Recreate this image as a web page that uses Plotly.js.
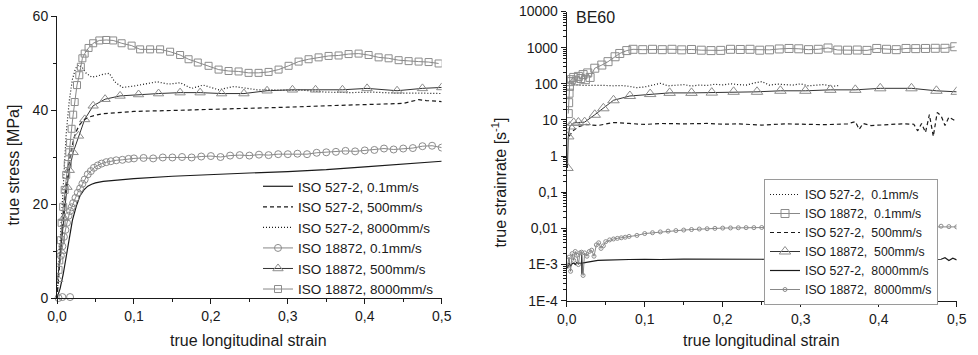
<!DOCTYPE html>
<html>
<head>
<meta charset="utf-8">
<script src="https://cdn.plot.ly/plotly-3.0.1.min.js"></script>
<style>html,body{margin:0;padding:0;background:#fff;}#chart{width:978px;height:355px;}</style>
</head>
<body>
<div id="chart"></div>
<script>
// ---------- LEFT PANEL: true stress vs true longitudinal strain ----------
const labelsLeft = ["ISO 527-2, 0.1mm/s","ISO 527-2, 500mm/s","ISO 527-2, 8000mm/s","ISO 18872, 0.1mm/s","ISO 18872, 500mm/s","ISO 18872, 8000mm/s"];

const s527_01_x = [0,0.004,0.008,0.012,0.016,0.02,0.025,0.03,0.035,0.04,0.045,0.05,0.06,0.08,0.1,0.15,0.2,0.25,0.3,0.35,0.4,0.45,0.5];
const s527_01_y = [0,2,5,9,13,16.5,19.5,21.8,23,23.8,24.2,24.5,24.8,25.1,25.4,25.9,26.3,26.6,26.9,27.3,27.9,28.5,29.1];

const s527_500_x = [0,0.003,0.006,0.01,0.014,0.018,0.022,0.026,0.03,0.035,0.04,0.05,0.06,0.08,0.1,0.15,0.2,0.25,0.3,0.35,0.4,0.45,0.47,0.48,0.5];
const s527_500_y = [0,6,13,21,27,31,34,35.8,37,37.9,38.4,38.9,39.2,39.5,39.7,39.9,40.1,40.4,40.6,40.9,41.1,41.4,42.2,42,41.8];

const s527_8000_x = [0,0.004,0.008,0.012,0.016,0.02,0.024,0.028,0.033,0.038,0.045,0.052,0.06,0.068,0.075,0.085,0.1,0.115,0.13,0.145,0.16,0.175,0.19,0.21,0.23,0.26,0.29,0.32,0.35,0.38,0.41,0.44,0.47,0.5];
const s527_8000_y = [0,12,25,35,42,46.5,48.8,49.6,49,47.8,47,47.2,47.6,47.8,46,44.8,45.1,45.6,46,45.5,45.8,44.6,45.3,44.3,45,44.3,44.2,44.2,43.8,43.7,43.8,43.6,43.6,43.5];

const s18872_01_x = [0.005,0.007,0.009,0.011,0.013,0.015,0.017,0.019,0.021,0.024,0.027,0.03,0.033,0.036,0.04,0.044,0.048,0.053,0.058,0.064,0.07,0.077,0.085,0.093,0.1,
  0.1125,0.125,0.1375,0.15,0.1625,0.175,0.1875,0.2,0.2125,0.225,0.2375,0.25,0.2625,0.275,0.2875,0.3,0.3125,0.325,0.3375,0.35,0.3625,0.375,0.3875,0.4,0.4125,0.425,0.4375,0.45,0.4625,0.475,0.4875,0.5];
const s18872_01_y = [9,11,13,14.5,16,17.5,18.5,19.3,20.2,21.3,22.4,23.3,24.3,25.2,26.3,27,27.7,28.2,28.6,28.9,29.1,29.3,29.4,29.6,29.7,
  29.8,29.7,29.9,29.9,30.0,29.9,30.1,30.2,30.0,30.3,30.4,30.3,30.5,30.4,30.6,30.6,30.7,30.6,30.9,31.0,31.1,31.3,31.2,31.4,31.5,31.8,31.6,31.8,31.9,32.3,32.4,32.0];
const s18872_01_start_x = [0.002,0.007,0.017];
const s18872_01_start_y = [0,0.2,0.2];

const s18872_500_x = [0.001,0.005,0.009,0.013,0.016,0.021,0.028,0.036,0.047,0.0625,0.082,0.106,0.132,0.16,0.186,0.214,0.243,0.273,0.306,0.336,0.371,0.403,0.442,0.475,0.5];
const s18872_500_y = [4,10,17,23.6,27.2,31,34.5,38,40.9,42.3,43,43.3,43.5,43.7,43.7,43.5,43.5,44.1,44.3,44.3,44.3,44.6,44.1,44.6,44.8];

const s18872_8000_x = [0.002,0.003,0.005,0.006,0.008,0.01,0.012,0.014,0.016,0.017,0.019,0.021,0.023,0.026,0.029,0.031,0.033,0.036,0.041,0.047,0.055,0.064,
  0.073,0.084,0.097,0.108,0.121,0.134,0.147,0.16,0.171,0.183,0.197,0.21,0.223,0.236,0.249,0.262,0.275,0.288,0.301,0.314,0.327,0.34,0.353,0.366,0.379,0.392,0.405,0.418,0.431,0.444,0.457,0.47,0.483,0.496];
const s18872_8000_y = [6,8,12.3,16,19.4,23,26.2,28.5,31,33,36,39,41.7,45.3,47.4,49.2,51,52,53.2,54.2,54.8,54.9,
  54.8,54.2,53.7,52.9,52.9,52.9,52.4,51.7,50.8,50.1,49.4,48.6,48.3,48.2,47.9,47.9,48.1,48.6,49.4,50.3,50.8,51.2,51.5,51.6,51.9,52,51.7,51.2,51,50.6,50.4,50.3,50.2,49.9];

// ---------- RIGHT PANEL: true strainrate vs true longitudinal strain ----------
const labelsRight = ["ISO 527-2,  0.1mm/s","ISO 18872,  0.1mm/s","ISO 527-2,  500mm/s","ISO 18872,  500mm/s","ISO 527-2,  8000mm/s","ISO 18872,  8000mm/s"];

const r_dot_x = [0.003,0.006,0.01,0.015,0.02,0.03,0.04,0.05,0.06,0.07,0.08,0.09,0.1,0.11,0.12,0.13,0.14,0.15,0.16,0.17,0.18,0.19,0.2,0.21,0.22,0.23,0.24,0.25,0.26,0.27,0.28,0.29,0.3,0.31,0.32,0.33,0.34,0.35];
const r_dot_y = [120,100,95,92,90,90,92,90,88,90,85,78,82,93,103,88,92,95,87,92,90,97,93,100,95,92,105,115,92,98,95,92,100,88,92,95,85,90];

const r_sq_x = [0.002,0.0025,0.003,0.0035,0.004,0.006,0.009,0.012,0.015,0.018,0.021,0.024,0.027,0.03,0.036,0.045,0.053,0.062,0.068,0.077,0.085,
  0.0975,0.11,0.1225,0.135,0.1475,0.16,0.1725,0.185,0.1975,0.21,0.2225,0.235,0.2475,0.26,0.2725,0.285,0.2975,0.31,0.3225,0.335,0.3475,0.36,0.3725,0.385,0.3975,0.41,0.4225,0.435,0.4475,0.46,0.4725,0.485,0.4975];
const r_sq_y = [15,30,55,85,115,130,150,120,160,140,180,130,200,150,270,330,410,560,690,830,900,
  880,900,880,900,870,890,850,830,840,900,890,900,850,870,920,950,930,880,900,980,860,850,860,840,950,900,880,950,940,950,960,960,1060];

const r_dash_x = [0.003,0.008,0.015,0.025,0.04,0.06,0.08,0.1,0.12,0.15,0.18,0.2,0.22,0.25,0.28,0.3,0.33,0.36,0.37,0.375,0.38,0.39,0.41,0.43,0.445,0.45,0.455,0.46,0.465,0.47,0.475,0.48,0.485,0.49,0.5];
const r_dash_y = [3.5,5,6.5,7.5,7,8.5,8,7.5,8,7.8,8,7.6,7.8,7.2,7.8,7.6,7.4,7.8,9,5.5,8,7,7.5,7.8,7.6,5,8,4.5,14,3.5,16,13,7,12,9];

const r_tri_x = [0.001,0.002,0.004,0.009,0.015,0.023,0.036,0.047,0.06,0.081,0.107,0.132,0.16,0.186,0.214,0.244,0.274,0.306,0.338,0.37,0.402,0.442,0.474,0.5];
const r_tri_y = [0.47,3.5,6.6,8.3,8.5,8.7,13.9,21,35,46,52,56,56,57,60,60,64,64,68,68,75,75,64,60];

const r_sol_x = [0.001,0.003,0.005,0.007,0.009,0.011,0.013,0.015,0.017,0.019,0.0192,0.0195,0.02,0.025,0.03,0.035,0.04,0.05,0.06,0.08,0.1,0.12,0.15,0.18,0.2,0.25,0.3,0.35,0.4,0.45,0.48,0.485,0.49,0.495,0.5];
const r_sol_y = [8e-4,1.1e-3,9e-4,1.05e-3,1.1e-3,1e-3,1.15e-3,1.05e-3,1.1e-3,1.05e-3,1.9e-3,5.5e-4,1.1e-3,1.15e-3,1.2e-3,1.25e-3,1.3e-3,1.32e-3,1.35e-3,1.38e-3,1.4e-3,1.38e-3,1.42e-3,1.4e-3,1.38e-3,1.4e-3,1.38e-3,1.4e-3,1.4e-3,1.42e-3,1.4e-3,1.55e-3,1.3e-3,1.5e-3,1.35e-3];

const r_circ_x = [0.001,0.003,0.005,0.007,0.009,0.011,0.013,0.015,0.017,0.019,0.021,0.023,0.026,0.029,0.032,0.035,0.038,0.041,0.044,0.047,0.05,0.055,0.06,0.065,0.07,0.075,0.08,
  0.09,0.1,0.11,0.12,0.13,0.14,0.15,0.16,0.17,0.18,0.19,0.2,
  0.21,0.22,0.23,0.24,0.25,0.26,0.27,0.28,0.29,0.3,0.31,0.32,0.33,0.34,0.35,0.36,0.37,0.38,0.39,0.4,0.41,0.42,0.43,0.44,0.45,0.46,0.47,0.48,0.49,0.5];
const r_circ_y = [9e-4,1.6e-3,6.5e-4,2e-3,1.3e-3,2.3e-3,1.8e-3,1e-3,2.1e-3,2.2e-3,5e-4,2.1e-3,1.7e-3,2.3e-3,2.5e-3,1.7e-3,3.5e-3,4e-3,2.8e-3,3.3e-3,4.3e-3,4.8e-3,5.1e-3,5.3e-3,5.5e-3,5.7e-3,6e-3,
  6.4e-3,7.2e-3,7.6e-3,8e-3,8.4e-3,8.7e-3,9e-3,9.3e-3,9.6e-3,9.8e-3,1e-2,1.02e-2,
  1.03e-2,1.04e-2,1.05e-2,1.05e-2,1.06e-2,1.07e-2,1.07e-2,1.08e-2,1.08e-2,1.09e-2,1.09e-2,1.1e-2,1.1e-2,1.1e-2,1.11e-2,1.11e-2,1.1e-2,1.12e-2,1.12e-2,1.11e-2,1.12e-2,1.13e-2,1.12e-2,1.13e-2,1.12e-2,1.14e-2,1.13e-2,1.15e-2,1.12e-2,1.1e-2];

const logTickVals = [1e-4,1e-3,1e-2,0.1,1,10,100,1000,10000];
const logTickText = ["1E-4","1E-3","0,01","0,1","1","10","100","1000","10000"];

// ---------- styling ----------
const W = 978, H = 355;
const FONT = "Liberation Sans, Arial, sans-serif";
const INK = "#1a1a1a";
const GRAY = "#8c8c8c";
const LGRAY = "#6a6a6a";

const traces = [
  {x:s527_01_x, y:s527_01_y, name:labelsLeft[0], mode:"lines", line:{color:INK,width:1.2}, xaxis:"x", yaxis:"y", legend:"legend"},
  {x:s527_500_x, y:s527_500_y, name:labelsLeft[1], mode:"lines", line:{color:INK,width:1.2,dash:"4px,3px"}, xaxis:"x", yaxis:"y", legend:"legend"},
  {x:s527_8000_x, y:s527_8000_y, name:labelsLeft[2], mode:"lines", line:{color:INK,width:1.2,dash:"1px,2px"}, xaxis:"x", yaxis:"y", legend:"legend"},
  {x:s18872_01_x, y:s18872_01_y, name:labelsLeft[3], mode:"lines+markers", line:{color:LGRAY,width:0.8}, marker:{symbol:"circle-open",size:7,color:GRAY,line:{width:1,color:GRAY}}, xaxis:"x", yaxis:"y", legend:"legend"},
  {x:s18872_500_x, y:s18872_500_y, name:labelsLeft[4], mode:"lines+markers", line:{color:"#333",width:1}, marker:{symbol:"triangle-up-open",size:9,color:GRAY,line:{width:1,color:GRAY}}, xaxis:"x", yaxis:"y", legend:"legend"},
  {x:s18872_8000_x, y:s18872_8000_y, name:labelsLeft[5], mode:"lines+markers", line:{color:LGRAY,width:0.8}, marker:{symbol:"square-open",size:7,color:GRAY,line:{width:1,color:GRAY}}, xaxis:"x", yaxis:"y", legend:"legend"},
  {x:s18872_01_start_x, y:s18872_01_start_y, mode:"markers", showlegend:false, marker:{symbol:"circle-open",size:7,color:GRAY,line:{width:1,color:GRAY}}, xaxis:"x", yaxis:"y", cliponaxis:false},

  {x:r_dot_x, y:r_dot_y, name:labelsRight[0], mode:"lines", line:{color:INK,width:1.2,dash:"1px,2px"}, xaxis:"x2", yaxis:"y2", legend:"legend2"},
  {x:r_sq_x, y:r_sq_y, name:labelsRight[1], mode:"lines+markers", line:{color:LGRAY,width:0.8}, marker:{symbol:"square-open",size:8,color:GRAY,line:{width:1,color:GRAY}}, xaxis:"x2", yaxis:"y2", legend:"legend2"},
  {x:r_dash_x, y:r_dash_y, name:labelsRight[2], mode:"lines", line:{color:INK,width:1.2,dash:"4px,3px"}, xaxis:"x2", yaxis:"y2", legend:"legend2"},
  {x:r_tri_x, y:r_tri_y, name:labelsRight[3], mode:"lines+markers", line:{color:"#333",width:1}, marker:{symbol:"triangle-up-open",size:10,color:GRAY,line:{width:1,color:GRAY}}, xaxis:"x2", yaxis:"y2", legend:"legend2"},
  {x:r_sol_x, y:r_sol_y, name:labelsRight[4], mode:"lines", line:{color:INK,width:1.2}, xaxis:"x2", yaxis:"y2", legend:"legend2"},
  {x:r_circ_x, y:r_circ_y, name:labelsRight[5], mode:"lines+markers", line:{color:LGRAY,width:0.8}, marker:{symbol:"circle-open",size:4,color:GRAY,line:{width:1,color:GRAY}}, xaxis:"x2", yaxis:"y2", legend:"legend2"}
];

// minor log ticks (2..9 per decade)
const minorLog = [];
for (let e = -4; e < 4; e++) for (let d = 2; d <= 9; d++) minorLog.push(d * Math.pow(10, e));

const axisBase = {
  showline:true, linecolor:INK, linewidth:1, ticks:"outside", ticklen:5, tickwidth:1, tickcolor:INK,
  showgrid:false, zeroline:false, mirror:false,
  tickfont:{family:FONT, size:14, color:INK}
};

const px = v => v / W, py = v => 1 - v / H;

const layout = {
  width:W, height:H, margin:{l:0,r:0,t:0,b:0},
  paper_bgcolor:"#fff", plot_bgcolor:"#fff",
  separators:",.",
  font:{family:FONT, color:INK},
  xaxis:Object.assign({}, axisBase, {domain:[px(57), px(441.7)], range:[0,0.5], dtick:0.1, tick0:0, tickformat:".1f",
    minor:{dtick:0.05, ticks:"outside", ticklen:3, tickcolor:INK}, anchor:"y"}),
  yaxis:Object.assign({}, axisBase, {domain:[py(298), py(16)], range:[0,60], tickvals:[0,20,40,60],
    minor:{tickvals:[10,30,50], ticks:"outside", ticklen:3, tickcolor:INK}, anchor:"x"}),
  xaxis2:Object.assign({}, axisBase, {domain:[px(566.7), px(956.7)], range:[0,0.5], dtick:0.1, tick0:0, tickformat:".1f",
    minor:{dtick:0.05, ticks:"outside", ticklen:3, tickcolor:INK}, anchor:"y2"}),
  yaxis2:Object.assign({}, axisBase, {domain:[py(300.7), py(11.5)], type:"log", range:[-4,4], tickmode:"array",
    tickvals:logTickVals, ticktext:logTickText,
    minor:{tickvals:minorLog, ticks:"outside", ticklen:2.5, tickcolor:INK}, anchor:"x2"}),
  legend:{x:px(258), y:py(171), xanchor:"left", yanchor:"top", bgcolor:"rgba(0,0,0,0)", borderwidth:0,
    font:{family:FONT, size:13.5, color:INK}, tracegroupgap:0, itemwidth:30},
  legend2:{x:px(764), y:py(179), xanchor:"left", yanchor:"top", bgcolor:"#fff", bordercolor:"#9a9a9a", borderwidth:1,
    font:{family:FONT, size:12.3, color:INK}, tracegroupgap:0, itemwidth:30},
  annotations:[
    {text:"true stress [MPa]", x:px(12.5), y:py(165), xref:"paper", yref:"paper", textangle:-90, showarrow:false,
      xanchor:"center", yanchor:"middle", font:{family:FONT, size:16, color:INK}},
    {text:"true longitudinal strain", x:px(249), y:py(340), xref:"paper", yref:"paper", showarrow:false,
      xanchor:"center", yanchor:"middle", font:{family:FONT, size:16, color:INK}},
    {text:"true strainrate [s<sup>-1</sup>]", x:px(499), y:py(182.5), xref:"paper", yref:"paper", textangle:-90, showarrow:false,
      xanchor:"center", yanchor:"middle", font:{family:FONT, size:16, color:INK}},
    {text:"true longitudinal strain", x:px(761.7), y:py(340), xref:"paper", yref:"paper", showarrow:false,
      xanchor:"center", yanchor:"middle", font:{family:FONT, size:16, color:INK}},
    {text:"BE60", x:px(574), y:py(17), xref:"paper", yref:"paper", showarrow:false,
      xanchor:"left", yanchor:"middle", font:{family:FONT, size:16, color:INK}}
  ]
};

Plotly.newPlot("chart", traces, layout, {staticPlot:true, displayModeBar:false});
</script>
</body>
</html>
